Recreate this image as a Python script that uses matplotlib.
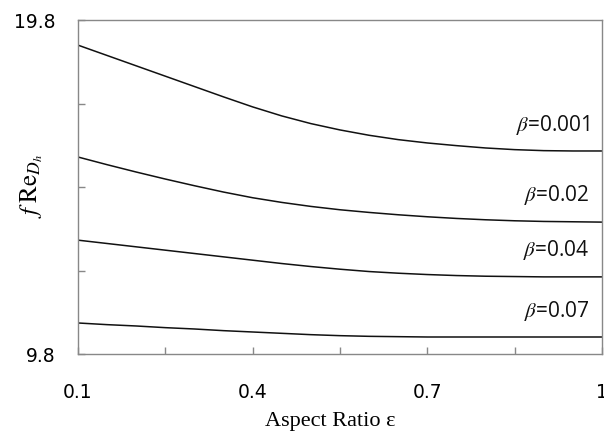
import matplotlib
matplotlib.use("Agg")
import matplotlib.pyplot as plt

plt.rcParams["mathtext.fontset"] = "stix"

# aspect ratio and f*Re values
aspect_ratio = [0.1, 0.15, 0.2, 0.25, 0.3, 0.35, 0.4, 0.45, 0.5, 0.55,
                0.6, 0.65, 0.7, 0.75, 0.8, 0.85, 0.9, 0.95, 1.0]
fre_b0001 = [19.05, 18.74, 18.43, 18.12, 17.81, 17.50, 17.20, 16.93, 16.70, 16.51,
             16.35, 16.22, 16.12, 16.04, 15.97, 15.92, 15.89, 15.88, 15.88]
fre_b002 = [15.70, 15.47, 15.25, 15.04, 14.84, 14.65, 14.48, 14.34, 14.22, 14.12,
            14.04, 13.97, 13.91, 13.86, 13.82, 13.79, 13.77, 13.76, 13.75]
fre_b004 = [13.21, 13.11, 13.01, 12.91, 12.81, 12.71, 12.61, 12.51, 12.42, 12.34,
            12.27, 12.22, 12.18, 12.15, 12.13, 12.12, 12.11, 12.11, 12.11]
fre_b007 = [10.73, 10.68, 10.64, 10.59, 10.55, 10.50, 10.46, 10.42, 10.38, 10.35,
            10.33, 10.32, 10.31, 10.31, 10.31, 10.31, 10.31, 10.31, 10.31]
etiquetas = ["0.001", "0.02", "0.04", "0.07"]
pos_etiquetas = [16.65, 14.55, 12.9, 11.1]

x_ticks = [0.1, 0.4, 0.7, 1.0]
x_tick_labels = ["0.1", "0.4", "0.7", "1"]
y_ticks = [9.8, 19.8]
y_minor = [12.3, 14.8, 17.3]

fig = plt.figure(figsize=(6.04, 4.36), dpi=100)
ax = fig.add_axes([0.129, 0.188, 0.8677, 0.766])

for serie in [fre_b0001, fre_b002, fre_b004, fre_b007]:
    ax.plot(aspect_ratio, serie, color="#111111", linewidth=1.1)

for etq, yy in zip(etiquetas, pos_etiquetas):
    ax.text(0.979, yy, r"$\beta$" + "=" + etq, ha="right", va="center",
            fontsize=15, family="Open Sans", color="#111111")

ax.set_xlim(0.1, 1.0)
ax.set_ylim(9.8, 19.8)
ax.set_xticks(x_ticks)
ax.set_xticklabels(x_tick_labels)
ax.set_xticks([0.25, 0.55, 0.85], minor=True)
ax.set_yticks(y_ticks)
ax.set_yticklabels(["9.8", "19.8"])
ax.set_yticks(y_minor, minor=True)

for s in ax.spines.values():
    s.set_color("#888888")
    s.set_linewidth(1.0)

ax.tick_params(axis="both", which="both", direction="in", length=5,
               color="#888888", width=1.0)
ax.tick_params(axis="x", which="major", pad=21, labelsize=13.5)
ax.tick_params(axis="y", which="major", pad=16, labelsize=13.5)

ax.set_xlabel("Aspect Ratio ε", family="Liberation Serif", fontsize=16)
ax.xaxis.set_label_coords(0.481, -0.175)
ax.set_ylabel(r"$f\;\mathrm{Re}_{D_h}$", fontsize=18)
ax.yaxis.set_label_coords(-0.063, 0.503)

fig.savefig("out.png", dpi=100)
